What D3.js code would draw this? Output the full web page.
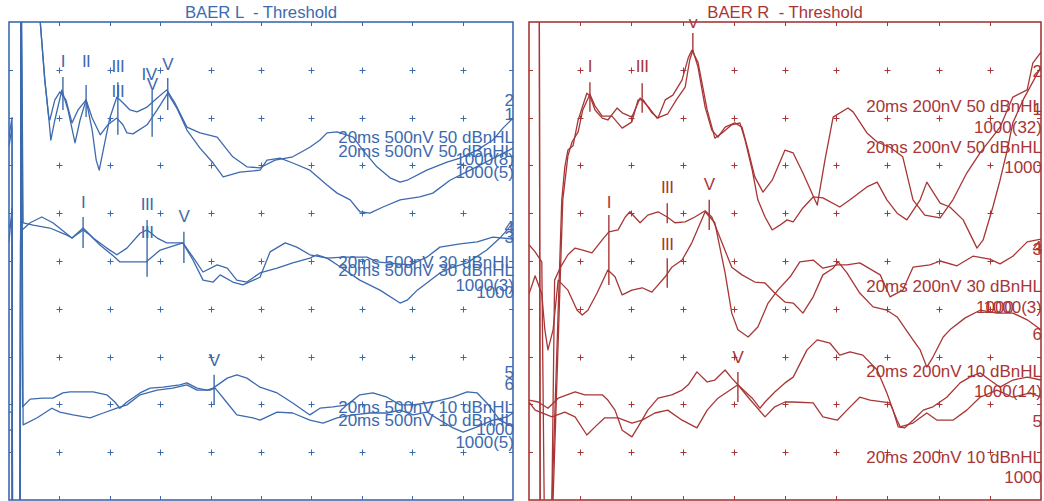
<!DOCTYPE html>
<html>
<head>
<meta charset="utf-8">
<script src="https://cdn.jsdelivr.net/npm/d3@7"></script>
<style>
  html, body { margin: 0; padding: 0; background: #ffffff; }
  svg { display: block; font-family: "Liberation Sans", Arial, sans-serif; }
</style>
</head>
<body>
<svg id="chart" width="1044" height="501"></svg>
<script>
// ---- Sweep grid: 10 ms across, 10 divisions high -------------------------
const timeDomain = [0, 10];   // ms
const ampDomain = [0, 10];    // vertical divisions

// ---- Left ear traces: [latency ms, position in divisions] ----------------
const L1 = [[0,7.6],[0.06,8.0],[0.07,-1.5],[0.22,-1.5],[0.24,11.5],[0.6,11.5],[0.62,10.0],[0.71,8.79],[0.79,7.99],[0.81,7.95],[0.91,8.37],[1.01,8.54],[1.13,8.37],[1.25,7.89],[1.37,8.16],[1.53,8.37],[1.65,7.74],[1.73,7.11],[1.79,6.90],[1.87,7.32],[2.00,7.99],[2.14,8.43],[2.26,8.31],[2.40,8.16],[2.54,8.12],[2.74,8.22],[2.94,8.41],[3.13,8.58],[3.29,8.31],[3.53,7.80],[3.79,7.68],[4.13,7.59],[4.44,7.18],[4.72,6.97],[4.98,6.95],[5.28,7.11],[5.63,7.18],[5.97,7.38],[6.17,7.53],[6.31,7.68],[6.51,7.70],[6.83,7.59],[7.02,7.32],[7.30,6.97],[7.56,6.74],[7.76,6.65],[7.90,6.69],[8.29,6.90],[8.69,7.07],[8.95,7.15],[9.29,7.32],[9.60,7.53],[9.80,7.78],[10.0,7.99]];
const L2 = [[0,7.4],[0.06,7.8],[0.07,-1.5],[0.22,-1.5],[0.24,11.5],[0.6,11.5],[0.62,10.0],[0.71,8.79],[0.79,7.99],[0.83,7.53],[0.91,7.95],[1.05,8.58],[1.17,8.16],[1.31,7.47],[1.41,7.95],[1.53,8.37],[1.65,7.99],[1.81,7.64],[1.96,7.85],[2.14,7.99],[2.26,7.85],[2.34,7.68],[2.46,7.66],[2.74,7.85],[2.94,8.16],[3.15,8.51],[3.33,8.20],[3.53,7.74],[3.79,7.36],[4.05,7.05],[4.25,6.76],[4.58,6.86],[4.98,6.90],[5.12,7.11],[5.38,7.15],[5.63,7.05],[5.97,6.90],[6.31,6.59],[6.51,6.42],[6.77,6.28],[6.96,6.03],[7.16,6.00],[7.42,6.13],[7.76,6.28],[8.15,6.34],[8.41,6.42],[8.75,6.69],[9.15,6.90],[9.54,7.11],[10.0,7.36]];
const L3 = [[0,5.40],[0.06,6.11],[0.07,-1.5],[0.22,-1.5],[0.24,11.5],[0.26,5.65],[0.42,5.80],[0.65,5.92],[0.87,5.80],[1.25,5.48],[1.47,5.65],[1.61,5.54],[1.81,5.33],[2.10,5.08],[2.20,4.98],[2.54,4.98],[2.72,4.98],[3.00,5.23],[3.45,5.38],[3.65,5.02],[3.85,4.60],[4.05,4.56],[4.19,4.71],[4.44,4.56],[4.64,4.50],[4.98,4.66],[5.18,5.19],[5.48,5.38],[5.71,5.29],[5.97,5.13],[6.11,5.10],[6.31,5.06],[6.51,4.92],[6.96,4.60],[7.36,4.39],[7.76,4.12],[7.90,4.18],[8.10,4.39],[8.29,4.54],[8.55,4.75],[8.81,4.87],[9.09,4.96],[9.48,5.23],[9.74,5.48],[10.0,5.79]];
const L4 = [[0,5.70],[0.06,5.90],[0.07,-1.5],[0.22,-1.5],[0.24,11.5],[0.28,5.80],[0.48,5.75],[0.81,5.69],[1.15,5.54],[1.25,5.48],[1.47,5.69],[1.67,5.48],[1.94,5.27],[2.14,5.13],[2.34,5.27],[2.60,5.58],[2.74,5.65],[2.94,5.48],[3.13,5.38],[3.45,5.38],[3.65,5.08],[3.85,4.77],[4.13,4.92],[4.33,4.85],[4.52,4.60],[4.72,4.56],[4.98,4.75],[5.32,4.85],[5.63,4.96],[5.97,5.06],[6.11,5.13],[6.31,5.06],[6.63,5.08],[7.10,5.08],[7.30,4.98],[7.50,4.96],[7.96,4.92],[8.29,5.08],[8.55,5.29],[8.95,5.36],[9.29,5.40],[9.60,5.50],[10.0,5.46]];
const L5 = [[0,1.84],[0.06,1.84],[0.07,-1.5],[0.22,-1.5],[0.24,11.5],[0.27,1.95],[0.42,2.11],[0.67,2.13],[0.87,2.13],[1.07,2.24],[1.21,2.26],[1.67,2.26],[1.94,2.20],[2.10,2.05],[2.20,1.92],[2.34,2.05],[2.60,2.24],[2.80,2.34],[3.06,2.36],[3.39,2.41],[3.53,2.45],[3.73,2.34],[3.93,2.30],[4.05,2.34],[4.33,2.55],[4.52,2.62],[4.72,2.55],[4.98,2.36],[5.32,2.24],[5.63,2.03],[5.97,1.78],[6.17,1.92],[6.43,1.95],[6.71,1.99],[6.96,2.20],[7.22,2.24],[7.50,2.15],[7.76,1.99],[8.02,1.99],[8.41,2.05],[8.81,2.15],[9.09,2.26],[9.29,2.24],[9.48,2.03],[9.74,1.67],[10.0,1.53]];
const L6 = [[0,1.46],[0.06,1.46],[0.07,-1.5],[0.22,-1.5],[0.24,11.5],[0.28,1.57],[0.56,1.72],[0.85,1.92],[1.01,1.84],[1.27,1.78],[1.61,1.72],[1.87,1.82],[2.14,1.92],[2.34,1.99],[2.60,2.20],[2.94,2.30],[3.25,2.34],[3.53,2.41],[3.73,2.30],[3.99,2.30],[4.09,2.34],[4.33,2.03],[4.52,1.78],[4.84,1.72],[4.98,1.67],[5.32,1.84],[5.63,1.82],[5.97,1.67],[6.23,1.61],[6.51,1.72],[6.83,1.78],[7.16,1.82],[7.50,1.82],[7.76,1.88],[8.02,1.78],[8.29,1.84],[8.55,1.67],[8.81,1.51],[9.01,1.42],[9.29,1.53],[9.60,1.67],[9.88,1.74],[10.0,1.82]];

// ---- Right ear traces ------------------------------------------------------
const R1 = [[0,11.5],[0.2,11.5],[0.22,-1.5],[0.42,-1.5],[0.45,0],[0.64,6.28],[0.70,6.97],[0.76,7.32],[0.86,7.41],[0.96,7.95],[1.13,8.51],[1.19,8.45],[1.29,8.16],[1.43,7.99],[1.54,7.95],[1.72,8.20],[1.82,8.10],[2.01,8.01],[2.17,8.41],[2.32,8.24],[2.50,7.99],[2.71,8.08],[2.89,8.39],[3.05,8.64],[3.14,9.21],[3.20,9.41],[3.30,9.06],[3.44,8.22],[3.57,7.74],[3.69,7.59],[3.83,7.80],[4.02,7.89],[4.16,7.80],[4.28,7.32],[4.41,6.76],[4.57,6.44],[4.75,6.69],[5.0,7.32],[5.16,7.26],[5.35,6.84],[5.63,6.17],[5.78,7.11],[5.94,8.01],[6.23,8.20],[6.33,8.12],[6.60,7.68],[6.80,7.49],[7.05,7.38],[7.30,7.18],[7.50,6.28],[7.73,5.96],[8.03,5.90],[8.28,6.28],[8.55,6.84],[8.81,7.26],[9.20,7.80],[9.45,8.43],[9.73,8.58],[9.84,9.14],[10.0,9.37]];
const R2 = [[0,11.5],[0.2,11.5],[0.22,-1.5],[0.44,-1.5],[0.47,0],[0.66,6.28],[0.76,7.20],[0.84,7.49],[0.96,7.70],[1.05,8.16],[1.19,8.49],[1.29,8.24],[1.43,8.03],[1.62,8.03],[1.82,7.78],[2.01,7.91],[2.13,8.37],[2.23,8.37],[2.40,8.10],[2.52,7.99],[2.66,8.37],[2.81,8.47],[2.99,8.79],[3.11,9.25],[3.18,9.41],[3.30,9.16],[3.48,8.16],[3.63,7.57],[3.77,7.68],[3.96,7.85],[4.12,7.89],[4.22,7.53],[4.36,6.90],[4.47,6.28],[4.61,5.92],[4.75,5.65],[4.90,5.75],[5.04,5.86],[5.16,5.82],[5.35,6.11],[5.55,6.34],[5.74,6.32],[6.07,6.13],[6.27,6.28],[6.60,6.55],[6.80,6.65],[6.99,6.28],[7.19,6.00],[7.38,5.86],[7.64,6.28],[7.77,6.65],[8.03,6.21],[8.22,6.13],[8.48,5.86],[8.75,5.27],[8.87,5.44],[9.06,6.13],[9.20,6.69],[9.34,7.32],[9.45,7.89],[9.65,8.37],[10.0,9.06]];
const R3 = [[0,5.34],[0.12,5.19],[0.25,4.98],[0.31,-1.5],[0.43,-1.5],[0.50,4.6],[0.61,4.86],[0.76,5.13],[0.90,5.27],[1.05,5.23],[1.23,5.17],[1.43,5.44],[1.56,5.61],[1.74,5.65],[1.88,5.92],[1.97,6.03],[2.17,5.80],[2.32,5.96],[2.52,6.03],[2.70,5.92],[2.85,5.80],[3.05,5.82],[3.24,5.92],[3.44,6.05],[3.57,5.92],[3.77,5.38],[3.96,4.87],[4.16,4.71],[4.41,4.56],[4.61,4.54],[4.80,4.33],[5.0,4.14],[5.16,4.12],[5.35,3.91],[5.55,4.25],[5.74,4.71],[5.94,4.85],[6.04,4.98],[6.21,4.75],[6.46,4.33],[6.72,4.04],[6.99,3.97],[7.19,3.83],[7.50,3.35],[7.64,3.14],[7.77,2.78],[7.89,2.99],[8.09,3.41],[8.22,3.56],[8.52,3.81],[8.81,3.97],[9.14,3.91],[9.45,3.91],[9.73,3.77],[10.0,3.56]];
const R4 = [[0,4.31],[0.12,4.69],[0.25,4.31],[0.31,3.56],[0.37,3.14],[0.47,3.56],[0.57,4.60],[0.76,4.39],[0.94,3.97],[1.04,3.87],[1.15,3.97],[1.33,4.33],[1.54,4.81],[1.68,4.67],[1.82,4.29],[2.01,4.39],[2.21,4.44],[2.40,4.35],[2.66,4.67],[2.79,4.87],[2.99,5.02],[3.18,5.38],[3.44,6.03],[3.63,5.80],[3.83,4.75],[3.96,3.91],[4.08,3.56],[4.28,3.41],[4.47,3.62],[4.67,4.12],[4.86,4.39],[5.10,4.67],[5.29,4.98],[5.55,5.02],[5.74,4.85],[6.02,4.92],[6.21,4.92],[6.46,4.96],[6.86,4.71],[7.05,4.25],[7.30,4.39],[7.50,4.87],[7.83,4.92],[8.03,5.00],[8.36,4.90],[8.67,5.10],[9.00,5.04],[9.20,4.94],[9.45,5.10],[9.73,5.40],[10.0,5.46]];
const R5 = [[0,2.09],[0.18,2.05],[0.37,1.92],[0.57,2.13],[0.90,2.26],[1.09,2.20],[1.43,2.20],[1.54,2.09],[1.68,1.88],[1.82,1.46],[2.01,1.32],[2.13,1.53],[2.32,1.88],[2.52,2.13],[2.79,2.20],[2.99,2.30],[3.11,2.41],[3.28,2.68],[3.48,2.47],[3.63,2.51],[3.83,2.72],[3.96,2.55],[4.08,2.41],[4.36,2.13],[4.51,1.92],[4.61,2.05],[4.80,2.26],[5.0,2.45],[5.16,2.57],[5.43,3.14],[5.63,3.35],[5.88,3.28],[6.07,3.03],[6.27,3.10],[6.52,3.03],[6.80,2.72],[6.99,2.24],[7.11,1.88],[7.21,1.53],[7.34,1.51],[7.50,1.67],[7.70,1.88],[7.89,1.95],[8.16,2.15],[8.42,2.45],[8.61,2.57],[8.81,2.66],[9.00,2.51],[9.20,2.36],[9.45,2.51],[9.73,2.57],[10.0,2.51]];
const R6 = [[0,2.05],[0.12,1.88],[0.45,1.74],[0.70,1.84],[0.90,1.74],[1.13,1.36],[1.29,1.53],[1.48,1.72],[1.74,1.72],[2.01,1.61],[2.21,1.67],[2.46,1.82],[2.71,1.88],[2.99,1.67],[3.28,1.51],[3.48,1.88],[3.69,2.13],[4.08,2.41],[4.28,2.15],[4.61,1.74],[4.80,1.95],[5.0,2.05],[5.16,2.05],[5.55,2.03],[5.74,1.74],[6.02,1.67],[6.21,1.88],[6.46,2.15],[6.66,2.09],[7.05,2.03],[7.19,1.67],[7.25,1.53],[7.50,1.61],[7.77,1.82],[7.97,1.67],[8.28,1.67],[8.55,1.88],[8.81,2.15],[9.14,2.30],[9.45,2.15],[9.79,2.24],[10.0,2.15]];

// ---- Wave markers: label, latency, label height, marker span (divisions) ----
const leftMarks = [
  { label: "I",   t: 1.07, at: 9.06, from: 8.85, to: 8.16 },
  { label: "II",  t: 1.53, at: 9.06, from: 8.68, to: 8.01 },
  { label: "III", t: 2.16, at: 8.95 },
  { label: "III", t: 2.16, at: 8.43, from: 8.74, to: 7.64 },
  { label: "IV",  t: 2.78, at: 8.79 },
  { label: "V",   t: 2.84, at: 8.58, from: 8.58, to: 7.60 },
  { label: "V",   t: 3.15, at: 9.00, from: 8.83, to: 8.16 },
  { label: "I",   t: 1.47, at: 6.11, from: 5.92, to: 5.27 },
  { label: "III", t: 2.74, at: 6.07, from: 5.86, to: 4.67 },
  { label: "III", t: 2.74, at: 5.48 },
  { label: "V",   t: 3.47, at: 5.82, from: 5.61, to: 4.96 },
  { label: "V",   t: 4.07, at: 2.80, from: 2.62, to: 1.99 }
];
const rightMarks = [
  { label: "I",   t: 1.19, at: 8.95, from: 8.74, to: 8.12 },
  { label: "III", t: 2.21, at: 8.95, from: 8.72, to: 8.10 },
  { label: "V",   t: 3.20, at: 9.87, from: 9.77, to: 9.35 },
  { label: "I",   t: 1.56, at: 6.11, from: 5.96, to: 4.50 },
  { label: "III", t: 2.70, at: 6.42, from: 6.21, to: 5.79 },
  { label: "III", t: 2.70, at: 5.23, from: 5.06, to: 4.44 },
  { label: "V",   t: 3.52, at: 6.49, from: 6.28, to: 5.65 },
  { label: "V",   t: 4.08, at: 2.87, from: 2.68, to: 2.05 }
];

// ---- Trace annotations: text, height (divisions), right end (ms) ---------
const leftNotes = [
  ["2", 8.24], ["1", 7.95],
  ["20ms 500nV 50 dBnHL", 7.47], ["20ms 500nV 50 dBnHL", 7.18],
  ["1000(8)", 7.00], ["1000(5)", 6.74],
  ["4", 5.59], ["3", 5.38],
  ["20ms 500nV 30 dBnHL", 4.85], ["20ms 500nV 30 dBnHL", 4.69],
  ["1000(3)", 4.37], ["1000", 4.23],
  ["5", 2.55], ["6", 2.30],
  ["20ms 500nV 10 dBnHL", 1.82], ["20ms 500nV 10 dBnHL", 1.55],
  ["1000", 1.36], ["1000(5)", 1.09]
];
const rightNotes = [
  ["2", 8.85],
  ["20ms 200nV 50 dBnHL", 8.12], ["1", 8.05],
  ["1000(32)", 7.68],
  ["20ms 200nV 50 dBnHL", 7.26], ["1000", 6.84],
  ["4", 5.17], ["3", 5.13],
  ["20ms 200nV 30 dBnHL", 4.35],
  ["1000(3)", 3.91], ["1000", 3.91, 9.45],
  ["6", 3.35],
  ["20ms 200nV 10 dBnHL", 2.57], ["1000(14)", 2.15],
  ["5", 1.53],
  ["20ms 200nV 10 dBnHL", 0.77], ["1000", 0.36]
];

const panelTitles = ["BAER L  - Threshold", "BAER R  - Threshold"];

// ---- Layout -----------------------------------------------------------------
const W = 1044, H = 501;
const frameTop = 22, frameBottom = 500;
const panels = [
  { title: panelTitles[0], color: "#3d6aae", x0: 9,   x1: 513,  traces: [L1, L2, L3, L4, L5, L6], marks: leftMarks,  notes: leftNotes },
  { title: panelTitles[1], color: "#a83636", x0: 529, x1: 1041, traces: [R1, R2, R3, R4, R5, R6], marks: rightMarks, notes: rightNotes }
];

const svg = d3.select("#chart");
const y = d3.scaleLinear().domain(ampDomain).range([frameBottom, frameTop]);
const inner = d3.range(1, 10);

panels.forEach((p, i) => {
  const x = d3.scaleLinear().domain(timeDomain).range([p.x0, p.x1]);
  const g = svg.append("g");

  const clipId = "sweep-clip-" + i;
  svg.append("clipPath").attr("id", clipId)
    .append("rect")
    .attr("x", p.x0).attr("y", frameTop)
    .attr("width", p.x1 - p.x0).attr("height", frameBottom - frameTop);

  const labelClipId = "label-clip-" + i;
  svg.append("clipPath").attr("id", labelClipId)
    .append("rect")
    .attr("x", p.x0 - 20).attr("y", 19)
    .attr("width", p.x1 - p.x0 + 40).attr("height", H - 19);

  // grid crosses
  const cross = [];
  inner.forEach(a => inner.forEach(b => {
    const cx = Math.round(x(a)) + 0.5, cy = Math.round(y(b)) + 0.5;
    cross.push(`M${cx - 3},${cy}H${cx + 3}M${cx},${cy - 3}V${cy + 3}`);
  }));
  g.append("path").attr("d", cross.join(""))
    .attr("stroke", p.color).attr("stroke-width", 1).attr("fill", "none");

  // frame ticks
  const ticks = [];
  inner.forEach(a => {
    const tx = Math.round(x(a)) + 0.5;
    ticks.push(`M${tx},${frameTop}V${frameTop + 4}M${tx},${frameBottom}V${frameBottom - 4}`);
    const ty = Math.round(y(a)) + 0.5;
    ticks.push(`M${p.x0},${ty}H${p.x0 + 4}M${p.x1},${ty}H${p.x1 - 4}`);
  });
  g.append("path").attr("d", ticks.join(""))
    .attr("stroke", p.color).attr("stroke-width", 1).attr("fill", "none");

  // waveforms
  const line = d3.line().x(d => x(d[0])).y(d => y(d[1]));
  g.append("g").attr("clip-path", `url(#${clipId})`)
    .selectAll("path").data(p.traces).join("path")
    .attr("d", line)
    .attr("fill", "none")
    .attr("stroke", p.color)
    .attr("stroke-width", 1.3)
    .attr("stroke-linejoin", "round");

  // frame
  g.append("rect")
    .attr("x", p.x0).attr("y", frameTop)
    .attr("width", p.x1 - p.x0).attr("height", frameBottom - frameTop)
    .attr("fill", "none").attr("stroke", p.color).attr("stroke-width", 1.6);

  // wave markers
  const mg = g.append("g").attr("clip-path", `url(#${labelClipId})`);
  p.marks.filter(m => m.from !== undefined).forEach(m => {
    mg.append("line")
      .attr("x1", x(m.t)).attr("x2", x(m.t))
      .attr("y1", y(m.from)).attr("y2", y(m.to))
      .attr("stroke", p.color).attr("stroke-width", 1.4);
  });
  mg.selectAll("text.mark").data(p.marks).join("text")
    .attr("class", "mark")
    .attr("x", d => x(d.t)).attr("y", d => y(d.at))
    .attr("text-anchor", "middle")
    .attr("font-size", 17)
    .attr("letter-spacing", -0.5)
    .attr("fill", p.color)
    .text(d => d.label);

  // trace annotations
  g.selectAll("text.note").data(p.notes).join("text")
    .attr("class", "note")
    .attr("x", d => x(d[2] !== undefined ? d[2] : 10) + 1)
    .attr("y", d => y(d[1]))
    .attr("text-anchor", "end")
    .attr("font-size", 17)
    .attr("fill", p.color)
    .text(d => d[0]);

  // title
  g.append("text")
    .attr("x", (p.x0 + p.x1) / 2).attr("y", 18)
    .attr("text-anchor", "middle")
    .attr("font-size", 16.7)
    .attr("fill", p.color)
    .style("white-space", "pre")
    .text(p.title);
});
</script>
</body>
</html>
